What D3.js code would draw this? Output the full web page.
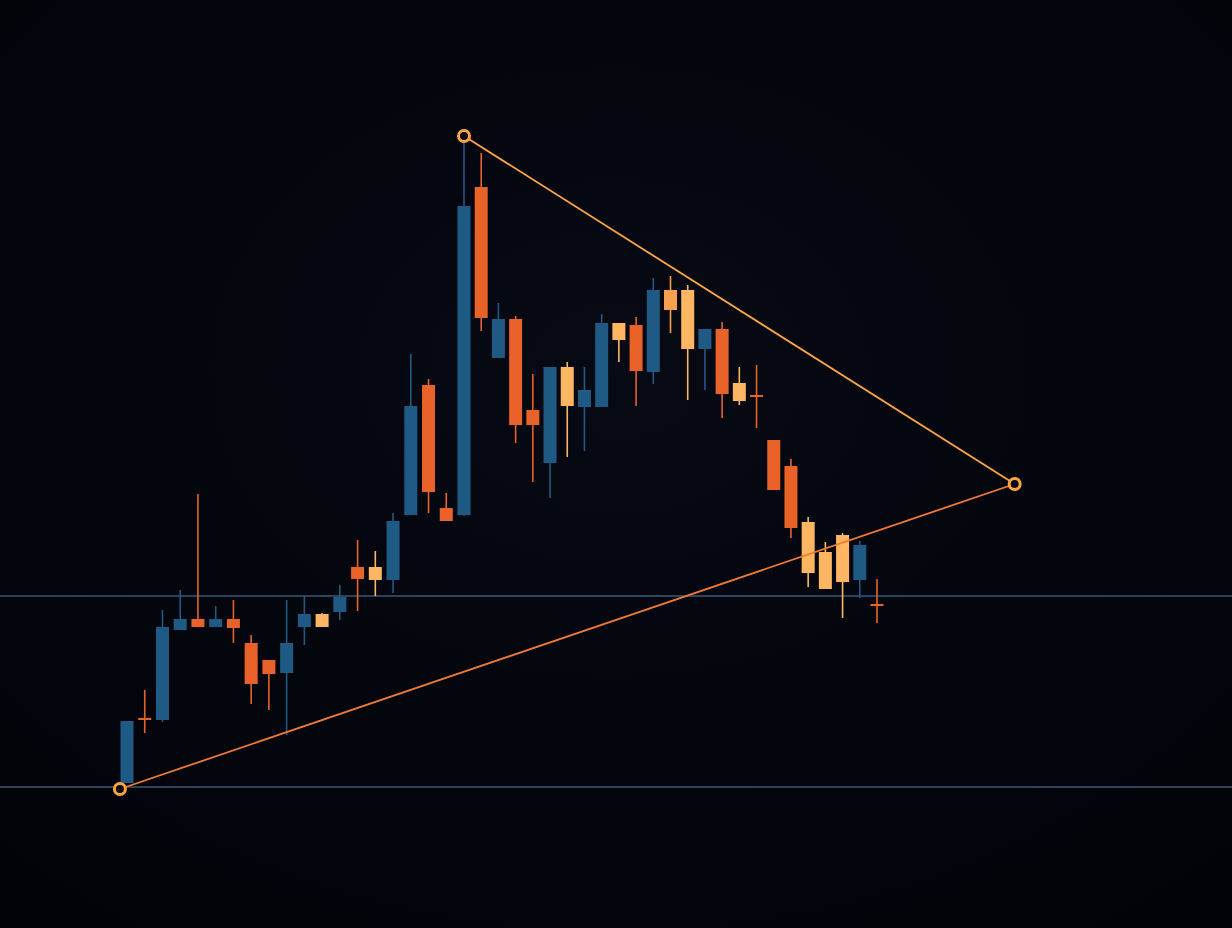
<!DOCTYPE html>
<html><head><meta charset="utf-8">
<script src="https://cdn.jsdelivr.net/npm/d3@7"></script>
<style>html,body{margin:0;padding:0;background:#04050b;}svg{display:block;}</style>
</head><body>
<svg id="c" width="1232" height="928"></svg>
<script>
// price units (arbitrary), higher = up
const opens  = [207,210,208,298,309,301,309,285,268,255,301,301,316,361,348,348,413,543,420,413,741,570,609,518,465,522,521,521,588,603,556,638,579,579,599,527,533,488,462,355,339,346,348,324];
const closes = [145,208,301,309,301,309,300,244,254,285,314,314,331,349,361,407,522,436,407,722,610,609,503,503,561,561,538,605,605,557,638,618,638,599,534,545,532,438,400,406,376,393,383,322];
const highs  = [207,238,318,338,434,322,328,293,268,328,332,315,343,388,377,415,574,549,435,785,775,625,612,554,561,566,561,614,605,611,650,652,643,599,606,561,563,488,469,411,386,395,387,349];
const lows   = [145,195,206,298,301,301,285,224,218,193,283,301,308,317,332,335,413,415,407,412,597,570,485,446,430,471,477,521,566,522,544,595,528,538,510,523,500,438,390,341,339,310,330,305];
const kinds  = ["b","o","b","b","o","b","o","o","o","b","b","y","b","o","y","b","b","o","o","b","o","b","o","o","b","y","b","b","y","o","b","m","y","b","o","y","o","o","o","y","y","y","b","o"];
const levels = [332,141];
const pivots = [{i:-0.4,p:139},{i:19,p:792},{i:51,p:444}];

const colors = {b:"#1f5a85",o:"#e8622a",y:"#ffb662",m:"#f7a050"};
const W=1232,H=928;
const svg=d3.select("#c");
const defs=svg.append("defs");
const g=defs.append("radialGradient").attr("id","bg").attr("cx","50%").attr("cy","40%").attr("r","75%");
g.append("stop").attr("offset","0%").attr("stop-color","#070914");
g.append("stop").attr("offset","100%").attr("stop-color","#020308");
svg.append("rect").attr("width",W).attr("height",H).attr("fill","url(#bg)");

const x=d3.scaleLinear().domain([0,19,43]).range([127,464,877]);
const y=d3.scaleLinear().domain([0,928]).range([928,0]);

svg.selectAll("line.lvl").data(levels).join("line").attr("class","lvl")
 .attr("x1",0).attr("x2",W).attr("y1",d=>y(d)).attr("y2",d=>y(d))
 .attr("stroke","#3b5878").attr("stroke-width",1.5);

const data=opens.map((o,i)=>({i,o,c:closes[i],h:highs[i],l:lows[i],k:kinds[i]}));
const bw=13;
const cg=svg.append("g");
cg.selectAll("line.w").data(data).join("line").attr("class","w")
 .attr("x1",d=>x(d.i)).attr("x2",d=>x(d.i)).attr("y1",d=>y(d.h)).attr("y2",d=>y(d.l))
 .attr("stroke",d=>colors[d.k]).attr("stroke-width",1.6);
cg.selectAll("rect.b").data(data).join("rect").attr("class","b")
 .attr("x",d=>x(d.i)-bw/2).attr("width",bw)
 .attr("y",d=>y(Math.max(d.o,d.c)))
 .attr("height",d=>Math.max(2,Math.abs(y(d.o)-y(d.c))))
 .attr("fill",d=>colors[d.k]);

const line=(a,b,col)=>svg.append("line").attr("x1",x(a.i)).attr("y1",y(a.p)).attr("x2",x(b.i)).attr("y2",y(b.p)).attr("stroke",col).attr("stroke-width",1.8);
line(pivots[1],pivots[2],"#ffa640");
line(pivots[0],pivots[2],"#f27a30");
svg.selectAll("circle.p").data(pivots).join("circle").attr("class","p")
 .attr("cx",d=>x(d.i)).attr("cy",d=>y(d.p)).attr("r",5.5)
 .attr("fill","#0a0a10").attr("stroke","#ffa640").attr("stroke-width",3);
</script></body></html>
